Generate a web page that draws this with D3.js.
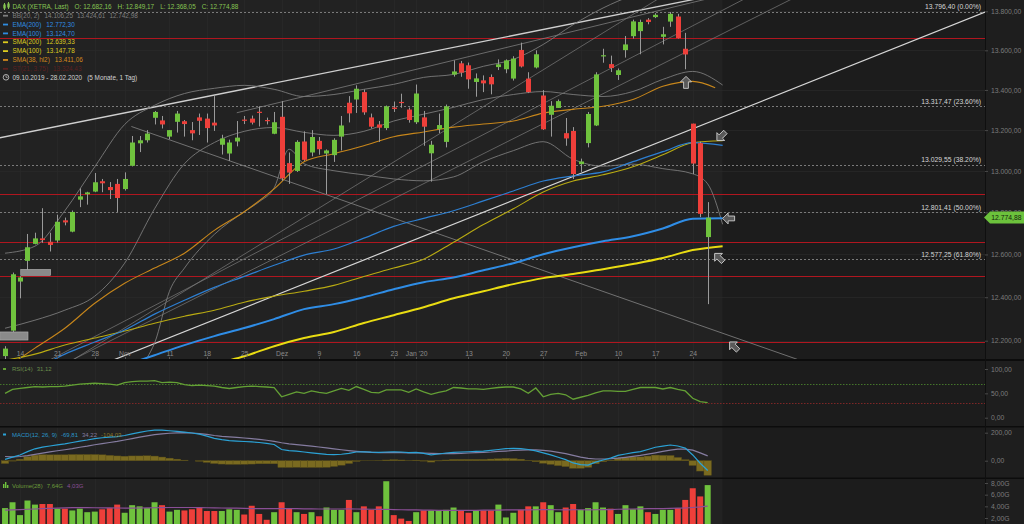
<!DOCTYPE html>
<html><head><meta charset="utf-8">
<script src="https://cdn.jsdelivr.net/npm/d3@7/dist/d3.min.js"></script>
<style>
html,body{margin:0;padding:0;background:#1e1e1e;}
svg{display:block;font-family:"Liberation Sans",Arial,sans-serif;}
</style></head><body>
<svg id="chart" width="1024" height="524"></svg>
<script>
// ---------- trading days ----------
const dates = [
 '2019-10-10','2019-10-11','2019-10-14','2019-10-15','2019-10-16','2019-10-17','2019-10-18','2019-10-21','2019-10-22','2019-10-23',
 '2019-10-24','2019-10-25','2019-10-28','2019-10-29','2019-10-30','2019-10-31','2019-11-01','2019-11-04','2019-11-05','2019-11-06',
 '2019-11-07','2019-11-08','2019-11-11','2019-11-12','2019-11-13','2019-11-14','2019-11-15','2019-11-18','2019-11-19','2019-11-20',
 '2019-11-21','2019-11-22','2019-11-25','2019-11-26','2019-11-27','2019-11-28','2019-11-29','2019-12-02','2019-12-03','2019-12-04',
 '2019-12-05','2019-12-06','2019-12-09','2019-12-10','2019-12-11','2019-12-12','2019-12-13','2019-12-16','2019-12-17','2019-12-18',
 '2019-12-19','2019-12-20','2019-12-23','2019-12-27','2019-12-30','2020-01-02','2020-01-03','2020-01-06','2020-01-07','2020-01-08',
 '2020-01-09','2020-01-10','2020-01-13','2020-01-14','2020-01-15','2020-01-16','2020-01-17','2020-01-20','2020-01-21','2020-01-22',
 '2020-01-23','2020-01-24','2020-01-27','2020-01-28','2020-01-29','2020-01-30','2020-01-31','2020-02-03','2020-02-04','2020-02-05',
 '2020-02-06','2020-02-07','2020-02-10','2020-02-11','2020-02-12','2020-02-13','2020-02-14','2020-02-17','2020-02-18','2020-02-19',
 '2020-02-20','2020-02-21','2020-02-24','2020-02-25','2020-02-26'];

// ---------- DAX OHLC ----------
const open = [
 12130,12246,12473,12570,12650,12676,12660,12666,12762,12708,
 12861,12887,12900,12950,12922,12937,12912,13025,13135,13150,
 13261,13248,13168,13241,13244,13200,13263,13257,13237,13128,
 13085,13144,13252,13257,13291,13250,13182,13266,13038,13000,
 13144,13090,13147,13085,13077,13168,13336,13352,13389,13263,
 13228,13210,13312,13340,13302,13239,13263,13086,13205,13142,
 13477,13534,13524,13440,13448,13465,13515,13504,13457,13602,
 13457,13513,13372,13276,13310,13185,13196,13033,13136,13223,
 13570,13530,13475,13601,13672,13698,13757,13770,13669,13747,
 13773,13608,13232,13136,12682.16];
const high = [
 12175,12515,12498,12697,12703,12820,12703,12789,12775,12809,
 12915,12899,12990,12961,12946,12961,12993,13171,13171,13200,
 13295,13270,13200,13295,13250,13240,13282,13282,13369,13177,
 13153,13245,13270,13272,13318,13262,13290,13344,13090,13150,
 13194,13200,13166,13105,13160,13270,13369,13423,13402,13282,
 13245,13322,13342,13381,13312,13427,13295,13147,13282,13327,
 13549,13546,13538,13483,13473,13478,13554,13554,13570,13639,
 13489,13600,13399,13344,13352,13260,13215,13060,13290,13489,
 13608,13573,13508,13673,13757,13757,13765,13790,13720,13796,
 13787,13689,13232,13143,12849.17];
const low = [
 12090,12240,12395,12523,12648,12655,12614,12656,12738,12705,
 12825,12837,12897,12897,12864,12802,12905,13022,13092,13139,
 13228,13208,13155,13188,13168,13150,13176,13139,13196,13080,
 13049,13120,13230,13228,13218,13228,13180,12952,12937,12995,
 13049,13071,13079,12888,13044,13100,13238,13285,13276,13208,
 13142,13200,13290,13311,13237,13230,13123,12948,13185,13115,
 13467,13466,13406,13366,13389,13378,13500,13484,13447,13513,
 13384,13508,13201,13168,13310,13123,12961,12995,13115,13220,
 13537,13490,13450,13563,13660,13580,13733,13765,13630,13720,
 13660,13504,12985,12777,12368.05];
const close = [
 12164,12507,12492,12634,12676,12668,12645,12755,12752,12802,
 12877,12896,12945,12940,12907,12869,12961,13139,13150,13183,
 13290,13228,13200,13282,13230,13184,13246,13210,13223,13159,
 13139,13163,13246,13237,13287,13246,13239,12964,12992,13142,
 13054,13166,13106,13100,13152,13223,13283,13406,13288,13217,
 13212,13318,13305,13337,13250,13382,13217,13128,13225,13318,
 13493,13487,13453,13458,13433,13428,13529,13549,13558,13518,
 13389,13580,13204,13321,13344,13159,12985,13046,13280,13478,
 13575,13510,13499,13630,13748,13745,13745,13782,13682,13787,
 13662,13579,13036,12793,12774.88];

// volume in billions, and its 28-day average
const volume = [
 3.7,4.7,2.5,5.0,4.3,4.4,4.4,3.6,3.6,3.3,
 3.6,3.0,3.1,3.5,3.7,4.3,2.9,4.2,4.0,3.7,
 4.7,4.2,3.1,3.4,3.3,3.5,3.8,3.2,3.2,3.2,
 3.5,3.4,2.6,4.1,2.7,1.7,3.0,4.7,3.7,3.0,
 2.7,3.0,2.3,3.8,3.4,3.4,5.1,3.0,4.0,3.4,
 4.0,8.3,2.5,1.9,1.5,3.0,3.3,3.3,3.3,3.4,
 3.8,3.3,2.9,3.3,3.3,3.3,4.3,2.1,2.9,3.4,
 4.0,4.0,4.7,4.2,3.0,3.8,4.4,3.4,3.7,4.7,
 3.8,3.6,2.7,4.2,3.5,4.0,3.0,2.7,3.4,3.4,
 3.7,5.1,7.1,5.7,7.64];
const volumeAvg = [
 3.35,3.4,3.45,3.5,3.55,3.6,3.65,3.7,3.75,3.78,
 3.78,3.78,3.76,3.75,3.74,3.72,3.7,3.7,3.72,3.74,
 3.76,3.78,3.8,3.8,3.8,3.8,3.78,3.76,3.74,3.72,
 3.7,3.68,3.65,3.62,3.6,3.6,3.6,3.62,3.62,3.6,
 3.58,3.56,3.55,3.55,3.55,3.55,3.56,3.55,3.52,3.5,
 3.48,3.5,3.45,3.42,3.4,3.38,3.36,3.34,3.32,3.3,
 3.3,3.3,3.3,3.32,3.34,3.36,3.36,3.38,3.38,3.4,
 3.4,3.42,3.45,3.45,3.42,3.4,3.42,3.42,3.4,3.42,
 3.45,3.45,3.5,3.52,3.55,3.58,3.6,3.6,3.62,3.65,
 3.68,3.72,3.8,3.9,4.03];

// RSI(14)
const rsi = [
 50,58,60,62,64,63,64,64,65,67,
 69,70,71,70,69,67,72,74,75,75,
 76,72,73,72,68,66,67,66,65,62,
 60,62,64,65,64,63,62,43,48,53,
 50,55,52,50,55,60,56,64,58,52,
 51,57,57,57,52,59,53,48,52,55,
 62,61,59,59,58,60,62,63,63,59,
 50,61,43,48,50,47,38,42,46,51,
 55,55,54,54,58,62,62,62,59,62,
 58,55,40,33,31.12];

// MACD(12, 26, 9)
const macdLine = [
 10,25,41,65,85,97,105,113,120,130,
 140,148,158,164,168,172,180,192,202,212,
 219,218,214,210,204,198,190,176,160,150,
 144,140,137,134,130,124,116,80,72,68,
 62,56,50,45,44,46,52,62,64,61,
 60,62,64,62,58,60,52,42,48,55,
 60,62,64,66,69,74,80,86,88,86,
 80,70,56,42,25,8,-16,-28,-31,-10,
 5,18,38,48,58,65,80,96,104,112,
 105,90,41,-18,-69.81];
const macdSignal = [
 30,28,30,36,45,54,63,71,78,86,
 96,104,114,122,130,138,148,158,168,177,
 186,192,196,199,200,198,194,188,180,174,
 170,166,162,158,152,146,138,128,120,115,
 110,104,98,92,85,78,72,67,63,60,
 58,57,57,57,56,56,55,52,50,50,
 51,53,55,57,60,62,66,69,73,75,
 77,77,74,68,60,50,38,26,16,12,
 12,14,18,24,31,38,47,56,66,75,
 82,83,75,56,34.22];
const macdHist = [
 -20,-3,11,29,40,43,42,42,42,44,
 44,44,44,42,38,34,32,34,34,35,
 33,26,18,11,4,0,-4,-12,-20,-24,
 -26,-26,-25,-24,-22,-22,-22,-48,-48,-47,
 -48,-48,-48,-47,-41,-32,-20,-5,1,1,
 2,5,7,5,2,4,-3,-10,-2,5,
 9,9,9,9,9,12,14,17,15,11,
 3,-7,-18,-26,-35,-42,-54,-54,-47,-22,
 -7,4,20,24,27,27,33,40,38,37,
 23,7,-34,-74,-104.03];

// moving averages, sampled every fourth session (index into the session list)
const maIdx   = [0,4,8,12,16,20,24,28,32,36,40,44,48,52,56,60,64,68,72,76,80,84,88,92,96];
const ema200  = [11937,11974,12006,12042,12088,12134,12180,12221,12258,12299,12345,12368,12400,12437,12470,12492,12526,12559,12601,12634,12662,12686,12723,12770,12772.30];
const ema100  = [12038,12074,12139,12194,12249,12322,12386,12446,12497,12549,12597,12626,12677,12733,12771,12808,12855,12903,12951,12976,12995,13045,13094,13138,13124.70];
const sma200  = [11823,11864,11905,11946,11983,12019,12056,12093,12129,12175,12212,12240,12281,12317,12354,12395,12428,12461,12489,12508,12531,12555,12583,12621,12639.33];
const sma100  = [12111,12139,12180,12212,12244,12280,12312,12340,12377,12405,12428,12455,12497,12536,12578,12658,12742,12817,12898,12951,12981,13020,13079,13138,13147.78];
const sma38Idx = [0,4,8,12,16,20,24,28,32,36,40,44,48,52,56,60,64,68,72,76,80,84,88,92,95];
const sma38   = [12074,12166,12257,12372,12465,12536,12606,12714,12803,12913,13045,13084,13123,13167,13191,13215,13230,13245,13284,13303,13318,13352,13418,13443,13411.06];

// Bollinger bands (20, 2)
const bbUpper  = [12606,12639,12808,13020,13228,13323,13382,13408,13423,13403,13367,13377,13403,13428,13463,13478,13519,13554,13630,13731,13817,13884,13936,14015,14106.25];
const bbMiddle = [12257,12294,12340,12405,12559,12817,13035,13139,13194,13213,13189,13174,13194,13245,13279,13313,13352,13377,13392,13377,13367,13392,13453,13493,13424.61];
const bbLowerIdx = [0,4,8,12,16,20,22,24,28,32,34,36,38,40,44,48,52,56,60,64,68,72,76,80,84,88,92,94,96];
const bbLower  = [11891,11937,11974,11992,12029,12189,12428,12536,12695,12803,12851,12918,13106,13035,13001,12981,12961,12952,12971,13045,13099,13143,13057,13023,13033,13011,12986,12937,12742.98];

// drawn trend lines: [session index, price] end points
const trendUpper      = [[-0.7, 13162], [98.4, 13910]];
const trendUpperInner = [[31.0, 13286], [98.8, 13910]];
const trendMain       = [[14.4, 12111], [131.1, 13796]];
const fanLines        = [[[5.9, 12111], [99.9, 13884]], [[8.9, 12111], [106.3, 13884]], [[9.0, 12111], [88.2, 13884]]];
const trendDown       = [[16.9, 13218], [106, 12115]];

// Fibonacci retracement and horizontal support/resistance levels
const fibLevels = [13796.40, 13317.47, 13029.55, 12801.41, 12577.25];
const fibPct    = ['0.00%', '23.60%', '38.20%', '50.00%', '61.80%'];
const srLevels  = [13664, 12888, 12661, 12501, 12192];

// open gaps: [from index, to index, upper price, lower price]
const gapBoxes = [[-0.7, 3.07, 12240, 12203], [2.1, 6.1, 12530, 12502]];
// signal arrows: [session index, price, direction in degrees]
const signalArrows = [[91.1, 13438, 0], [95.8, 13170, 225], [96.8, 12771, 270], [95.5, 12585, 315], [97.5, 12175, 315]];

// axis ticks
const xTickDates  = ['2019-10-14','2019-10-21','2019-10-28','2019-11-01','2019-11-11','2019-11-18','2019-11-25','2019-12-02','2019-12-09','2019-12-16','2019-12-23','2020-01-02','2020-01-13','2020-01-20','2020-01-27','2020-02-03','2020-02-10','2020-02-17','2020-02-24'];
const xTickLabels = ['14','21','28','Nov','11','18','25','Dez','9','16','23',"Jan '20",'13','20','27','Feb','10','17','24'];
const priceTicks  = [12200,12400,12600,12800,13000,13200,13400,13600,13800];
const rsiTicks    = [0, 50, 100];
const macdTicks   = [0, 200];
const volTicks    = [2, 4, 6, 8];

// legend
const instrument = 'DAX (XETRA, Last)';
const legendRows = [
  {name: 'BB(20, 2)',    vals: [14106.25, 13424.61, 12742.98], color: '#7e7e7e'},
  {name: 'EMA(200)',     vals: [12772.30], color: '#2f8ce0'},
  {name: 'EMA(100)',     vals: [13124.70], color: '#2f8ce0'},
  {name: 'SMA(200)',     vals: [12639.33], color: '#dccb1e'},
  {name: 'SMA(100)',     vals: [13147.78], color: '#dccb1e'},
  {name: 'SMA(38, hl2)', vals: [13411.06], color: '#d3891c'},
  {name: 'ST(21, 3.75)', vals: [13324.43], color: '#5c2020'}
];
const periodText = '09.10.2019 - 28.02.2020';
const periodNote = '(5 Monate, 1 Tag)';

// ---------- setup ----------
const AXIS_X = 985;
const svg = d3.select('#chart');
const de = d3.formatLocale({decimal: ',', thousands: '.', grouping: [3], currency: ['', ''], minus: '-'});
const fmt = de.format(',.2f');
const idx = d => dates.indexOf(d);
const last = close.length - 1;
const crisp = v => Math.round(v) + 0.5;

const x = d3.scaleLinear().domain([-0.675, 131.1]).range([0, AXIS_X]);
const yMain = d3.scaleLog().domain([12200, 13800]).range([340.7, 11.3]);
const yRsi = d3.scaleLinear().domain([0, 100]).range([417.7, 369]);
const yMacd = d3.scaleLinear().domain([0, 200]).range([460.7, 432.7]);
const yVol = d3.scaleLinear().domain([0, 8]).range([529.7, 483]);

const GREEN = '#6fc23d', RED = '#ee3f3a';
const panels = [
  {id: 'main', top: 0, bottom: 359},
  {id: 'rsi', top: 361, bottom: 426},
  {id: 'macd', top: 427.5, bottom: 477.5},
  {id: 'vol', top: 479, bottom: 524}
];
const liveEdge = x(96);

svg.append('rect').attr('width', 1024).attr('height', 524).attr('fill', '#1e1e1e');
const defs = svg.append('defs');
panels.forEach(p => {
  svg.append('rect').attr('x', 0).attr('y', p.top).attr('width', liveEdge).attr('height', p.bottom - p.top).attr('fill', '#222222');
  svg.append('rect').attr('x', liveEdge).attr('y', p.top).attr('width', AXIS_X - liveEdge).attr('height', p.bottom - p.top).attr('fill', '#1c1c1c');
  defs.append('clipPath').attr('id', 'clip-' + p.id).append('rect')
    .attr('x', 0).attr('y', p.top).attr('width', AXIS_X).attr('height', p.bottom - p.top);
});

// vertical grid at the date ticks
const grid = svg.append('g');
xTickDates.forEach(d => {
  const gx = crisp(x(idx(d)));
  panels.forEach(p => grid.append('line').attr('x1', gx).attr('x2', gx).attr('y1', p.top).attr('y2', p.bottom)
    .attr('stroke', '#2a2a2a').attr('stroke-width', 0.7));
});
priceTicks.forEach(v => grid.append('line').attr('x1', 0).attr('x2', AXIS_X)
  .attr('y1', crisp(yMain(v))).attr('y2', crisp(yMain(v))).attr('stroke', '#292929').attr('stroke-width', 0.7));

// ---------- main price panel ----------
const gMain = svg.append('g').attr('clip-path', 'url(#clip-main)');
const seg = d3.line().x(d => x(d[0])).y(d => yMain(d[1]));

gMain.selectAll('line.fib').data(fibLevels).join('line').attr('class', 'fib')
  .attr('x1', 0).attr('x2', AXIS_X).attr('y1', d => crisp(yMain(d))).attr('y2', d => crisp(yMain(d)))
  .attr('stroke', '#7a7a7a').attr('stroke-width', 1).attr('stroke-dasharray', '2,2');
gMain.selectAll('line.sr').data(srLevels).join('line').attr('class', 'sr')
  .attr('x1', 0).attr('x2', AXIS_X).attr('y1', d => crisp(yMain(d))).attr('y2', d => crisp(yMain(d)))
  .attr('stroke', '#b0161f').attr('stroke-width', 1);

// trend lines
gMain.append('path').attr('d', seg(trendUpper)).attr('stroke', '#cfcfcf').attr('stroke-width', 1.3).attr('fill', 'none');
gMain.append('path').attr('d', seg(trendUpperInner)).attr('stroke', '#8a8a8a').attr('stroke-width', 0.7).attr('fill', 'none');
fanLines.forEach(l => gMain.append('path').attr('d', seg(l)).attr('stroke', '#7c7c7c').attr('stroke-width', 0.7).attr('fill', 'none'));
gMain.append('path').attr('d', seg(trendDown)).attr('stroke', '#858585').attr('stroke-width', 0.8).attr('fill', 'none');
gMain.append('path').attr('d', seg(trendMain)).attr('stroke', '#d6d6d6').attr('stroke-width', 1.2).attr('fill', 'none');

// indicator curves
const curve = d3.line().x(d => x(d[0])).y(d => yMain(d[1])).curve(d3.curveMonotoneX);
const drawCurve = (ix, vals, color, w) => gMain.append('path').attr('d', curve(d3.zip(ix, vals)))
  .attr('fill', 'none').attr('stroke', color).attr('stroke-width', w);
drawCurve(maIdx, bbUpper, '#7b7b7b', 0.9);
drawCurve(maIdx, bbMiddle, '#7b7b7b', 0.9);
drawCurve(bbLowerIdx, bbLower, '#7b7b7b', 0.9);
drawCurve(sma38Idx, sma38, '#c7861b', 1.1);
drawCurve(maIdx, sma100, '#b9ab12', 1.1);
drawCurve(maIdx, ema100, '#2d7fd2', 1.2);
drawCurve(maIdx, sma200, '#e9dc12', 2);
drawCurve(maIdx, ema200, '#2f8de6', 2);

// candles
const cw = 5;
const candles = gMain.selectAll('g.candle').data(d3.range(dates.length)).join('g').attr('class', 'candle');
candles.append('line')
  .attr('x1', i => crisp(x(i))).attr('x2', i => crisp(x(i)))
  .attr('y1', i => yMain(high[i])).attr('y2', i => yMain(low[i]))
  .attr('stroke', '#9a9a9a').attr('stroke-width', 1);
candles.append('rect')
  .attr('x', i => crisp(x(i)) - cw / 2).attr('width', cw)
  .attr('y', i => yMain(Math.max(open[i], close[i])))
  .attr('height', i => Math.max(1.2, yMain(Math.min(open[i], close[i])) - yMain(Math.max(open[i], close[i]))))
  .attr('fill', i => close[i] >= open[i] ? GREEN : RED);

// gap markers
gMain.selectAll('rect.gap').data(gapBoxes).join('rect').attr('class', 'gap')
  .attr('x', d => x(d[0])).attr('width', d => x(d[1]) - x(d[0]))
  .attr('y', d => yMain(d[2])).attr('height', d => yMain(d[3]) - yMain(d[2]))
  .attr('fill', '#8a8a8a').attr('stroke', '#b5b5b5').attr('stroke-width', 0.6);

// signal arrows
gMain.selectAll('path.arrow').data(signalArrows).join('path').attr('class', 'arrow')
  .attr('d', 'M0,-6 L5.5,-0.5 L2.4,-0.5 L2.4,6 L-2.4,6 L-2.4,-0.5 L-5.5,-0.5 Z')
  .attr('transform', d => `translate(${x(d[0])},${yMain(d[1])}) rotate(${d[2]})`)
  .attr('fill', '#595959').attr('stroke', '#cdcdcd').attr('stroke-width', 0.9);

// fibonacci labels
svg.selectAll('text.fibLabel').data(fibLevels).join('text').attr('class', 'fibLabel')
  .attr('x', 981).attr('y', d => yMain(d) - 2.5).attr('text-anchor', 'end')
  .attr('fill', '#d6d6d6').style('font-size', '6.8px')
  .text((d, k) => `${fmt(d)} (${fibPct[k]})`);

// date axis
const axDate = svg.append('g').attr('transform', 'translate(0,348)')
  .call(d3.axisBottom(x).tickValues(xTickDates.map(idx)).tickFormat((d, k) => xTickLabels[k]).tickSize(0).tickPadding(3.5));
axDate.attr('font-family', null).attr('font-size', null);
axDate.select('.domain').remove();
axDate.selectAll('text').attr('fill', '#8a8a8a').style('font-size', '6.8px');
xTickDates.forEach(d => svg.append('line').attr('x1', crisp(x(idx(d)))).attr('x2', crisp(x(idx(d))))
  .attr('y1', 357).attr('y2', 359).attr('stroke', '#5a5a5a'));

// ---------- RSI panel ----------
const gRsi = svg.append('g').attr('clip-path', 'url(#clip-rsi)');
gRsi.append('line').attr('x1', 0).attr('x2', AXIS_X).attr('y1', crisp(yRsi(70))).attr('y2', crisp(yRsi(70)))
  .attr('stroke', '#44752a').attr('stroke-width', 1).attr('stroke-dasharray', '1.5,1.5');
gRsi.append('line').attr('x1', 0).attr('x2', AXIS_X).attr('y1', crisp(yRsi(30))).attr('y2', crisp(yRsi(30)))
  .attr('stroke', '#7e2626').attr('stroke-width', 1).attr('stroke-dasharray', '1.5,1.5');
gRsi.append('path').attr('d', d3.line().x((d, i) => x(i)).y(d => yRsi(d))(rsi))
  .attr('fill', 'none').attr('stroke', '#64a035').attr('stroke-width', 1.3);

// ---------- MACD panel ----------
const gMacd = svg.append('g').attr('clip-path', 'url(#clip-macd)');
const bw = x(1) - x(0);
gMacd.selectAll('rect.h').data(macdHist).join('rect').attr('class', 'h')
  .attr('x', (d, i) => x(i) - bw / 2).attr('width', bw)
  .attr('y', d => Math.min(yMacd(d), yMacd(0))).attr('height', d => Math.abs(yMacd(d) - yMacd(0)))
  .attr('fill', '#7a6a20').attr('stroke', '#5d5118').attr('stroke-width', 0.4);
gMacd.append('path').attr('d', d3.line().x((d, i) => x(i)).y(d => yMacd(d))(macdSignal))
  .attr('fill', 'none').attr('stroke', '#857ca0').attr('stroke-width', 1.2);
gMacd.append('path').attr('d', d3.line().x((d, i) => x(i)).y(d => yMacd(d))(macdLine))
  .attr('fill', 'none').attr('stroke', '#2ba2d6').attr('stroke-width', 1.2);

// ---------- volume panel ----------
const gVol = svg.append('g').attr('clip-path', 'url(#clip-vol)');
gVol.selectAll('rect.v').data(volume).join('rect').attr('class', 'v')
  .attr('x', (d, i) => x(i) - 3).attr('width', 6)
  .attr('y', d => yVol(d)).attr('height', d => yVol(0) - yVol(d))
  .attr('fill', (d, i) => close[i] >= open[i] ? GREEN : RED);
gVol.append('path').attr('d', d3.line().x((d, i) => x(i)).y(d => yVol(d))(volumeAvg))
  .attr('fill', 'none').attr('stroke', '#8a4f96').attr('stroke-width', 1.2);

// ---------- separators and right axes ----------
[[359, 361], [426, 427.5], [477.5, 479]].forEach(([a, b]) =>
  svg.append('rect').attr('x', 0).attr('y', a).attr('width', 1024).attr('height', b - a).attr('fill', '#0c0c0c'));
svg.append('line').attr('x1', AXIS_X + 0.5).attr('x2', AXIS_X + 0.5).attr('y1', 0).attr('y2', 524).attr('stroke', '#0f0f0f');

function rightAxis(scale, ticks, format) {
  const g = svg.append('g').attr('transform', `translate(${AXIS_X},0)`)
    .call(d3.axisRight(scale).tickValues(ticks).tickFormat(format).tickSize(3).tickSizeOuter(0).tickPadding(3));
  g.attr('font-family', null).attr('font-size', null);
  g.select('.domain').remove();
  g.selectAll('line').attr('stroke', '#4a4a4a');
  g.selectAll('text').attr('fill', '#7b7b7b').style('font-size', '6.8px');
}
rightAxis(yMain, priceTicks, fmt);
rightAxis(yRsi, rsiTicks, fmt);
rightAxis(yMacd, macdTicks, fmt);
rightAxis(yVol, volTicks, d => fmt(d) + 'G');

// last price tag
const ly = yMain(close[last]);
svg.append('path').attr('d', `M${AXIS_X - 1},${ly} L${AXIS_X + 5},${ly - 6} H1024 V${ly + 6} H${AXIS_X + 5} Z`).attr('fill', '#6cc23c');
svg.append('text').attr('x', 1021.5).attr('y', ly + 2.5).attr('text-anchor', 'end')
  .attr('fill', '#14220c').style('font-size', '6.8px').text(fmt(close[last]));

// ---------- legends ----------
const lg = svg.append('g');
function textRow(parent, xx, yy, parts, size) {
  let cx = xx;
  parts.forEach(p => {
    const t = parent.append('text').attr('x', cx).attr('y', yy).attr('fill', p.color)
      .style('font-size', size + 'px').style('white-space', 'pre').text(p.text);
    cx += t.node().getComputedTextLength() + (p.gap === undefined ? 4 : p.gap);
  });
}
// candlestick glyph
lg.append('line').attr('x1', 4.5).attr('x2', 4.5).attr('y1', 3).attr('y2', 10).attr('stroke', '#86c452');
lg.append('rect').attr('x', 3.3).attr('y', 4.5).attr('width', 2.4).attr('height', 4).attr('fill', '#86c452');
lg.append('line').attr('x1', 8.5).attr('x2', 8.5).attr('y1', 2).attr('y2', 9).attr('stroke', '#86c452');
lg.append('rect').attr('x', 7.3).attr('y', 3.5).attr('width', 2.4).attr('height', 4).attr('fill', '#86c452');
const hdrColor = '#86c452';
textRow(lg, 12.5, 9, [
  {text: instrument, color: hdrColor, gap: 6},
  {text: 'O: ' + fmt(open[last]), color: hdrColor, gap: 6},
  {text: 'H: ' + fmt(high[last]), color: hdrColor, gap: 6},
  {text: 'L: ' + fmt(low[last]), color: hdrColor, gap: 6},
  {text: 'C: ' + fmt(close[last]), color: hdrColor}
], 6.4);
legendRows.forEach((r, k) => {
  const by = 17.8 + k * 8.85;
  lg.append('rect').attr('x', 3).attr('y', by - 3).attr('width', 5).attr('height', 1.8).attr('fill', r.color);
  textRow(lg, 12.5, by, [{text: r.name, color: r.color, gap: 5}].concat(r.vals.map(v => ({text: fmt(v), color: r.color, gap: 4}))), 6.4);
});
// clock glyph and period
const cy = 77.3;
lg.append('circle').attr('cx', 6).attr('cy', cy).attr('r', 2.8).attr('fill', 'none').attr('stroke', '#d0d0d0').attr('stroke-width', 0.8);
lg.append('path').attr('d', `M6,${cy - 1.8} V${cy} H7.6`).attr('fill', 'none').attr('stroke', '#d0d0d0').attr('stroke-width', 0.7);
textRow(lg, 12.5, cy + 2.4, [{text: periodText, color: '#d2d2d2', gap: 5}, {text: periodNote, color: '#d2d2d2'}], 6.4);

// RSI legend
svg.append('rect').attr('x', 3).attr('y', 368).attr('width', 3).attr('height', 2).attr('fill', '#64a035');
textRow(svg, 12, 371, [{text: 'RSI(14)', color: '#6a8d4a', gap: 4}, {text: fmt(rsi[last]), color: '#6a8d4a'}], 6);
// MACD legend
svg.append('rect').attr('x', 3).attr('y', 433.5).attr('width', 3).attr('height', 2).attr('fill', '#2ba2d6');
textRow(svg, 12, 436.5, [
  {text: 'MACD(12, 26, 9)', color: '#2a95c8', gap: 4},
  {text: fmt(macdLine[last]), color: '#2a95c8', gap: 4},
  {text: fmt(macdSignal[last]), color: '#857ca0', gap: 4},
  {text: fmt(macdHist[last]), color: '#8a7a2a'}
], 6);
// volume legend
svg.append('rect').attr('x', 3).attr('y', 484).attr('width', 1.4).attr('height', 4).attr('fill', '#6fc23d');
svg.append('rect').attr('x', 5).attr('y', 482).attr('width', 1.4).attr('height', 6).attr('fill', '#6fc23d');
svg.append('rect').attr('x', 7).attr('y', 485).attr('width', 1.4).attr('height', 3).attr('fill', '#6fc23d');
textRow(svg, 12, 488, [
  {text: 'Volume(28)', color: '#6a9a3a', gap: 4},
  {text: fmt(volume[last]) + 'G', color: '#6a9a3a', gap: 4},
  {text: fmt(volumeAvg[last]) + 'G', color: '#8a4f96'}
], 6);
</script></body></html>
